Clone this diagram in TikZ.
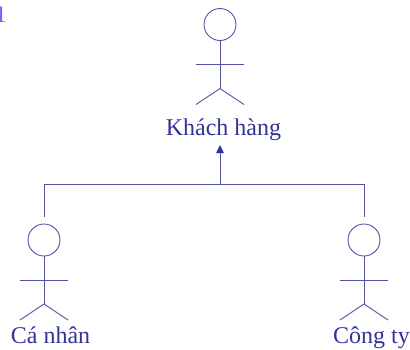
\documentclass[tikz,border=0pt]{standalone}
\usepackage{fontspec}
\setmainfont{Liberation Serif}
\usetikzlibrary{arrows.meta}
\definecolor{umlblue}{HTML}{333399}
\definecolor{numblue}{HTML}{6666FF}
\tikzset{
  x=1pt,y=-1pt,
  umlline/.style={draw=umlblue!85!white,line width=0.9pt},
  umlhead/.style={circle,umlline,minimum size=32pt,inner sep=0pt,outer sep=0pt},
  umllabel/.style={text=umlblue,font=\fontsize{24}{26}\selectfont,inner sep=0pt,anchor=base},
  actor/.pic={
    \node[umlhead] (-head) at (0,0) {};
    \coordinate (-hip) at (0,64);
    \coordinate (-neck) at (0,40);
    \coordinate (-la) at (-24,40);
    \coordinate (-ra) at (24,40);
    \coordinate (-lf) at (-24,80);
    \coordinate (-rf) at (24,80);
    \draw[umlline] (-head.south) -- (-hip);
    \draw[umlline] (-la) -- (-ra);
    \draw[umlline] (-lf) -- (-hip) -- (-rf);
  }
}
\begin{document}
\begin{tikzpicture}
\useasboundingbox (0,0) rectangle (410,349);
\begin{scope}
\clip (0,0) rectangle (410,349);
\node[text=numblue,font=\fontsize{24}{26}\selectfont,inner sep=0pt,anchor=base east] (num) at (7,22) {1};
\end{scope}
\pic (top) at (220,24.5) {actor};
\pic (left) at (44,240) {actor};
\pic (right) at (364,240) {actor};
\node[umllabel] (ltop) at (223.5,135) {Khách hàng};
\node[umllabel] (lleft) at (50.5,343) {Cá nhân};
\node[umllabel] (lright) at (371.5,343) {Công ty};
\coordinate (junc) at (220,184);
\coordinate (cleft) at (44,184);
\coordinate (cright) at (364,184);
\coordinate (eleft) at (44,217);
\coordinate (eright) at (364,217);
\coordinate (tip) at (220,145);
\draw[umlline] (eleft) -- (cleft) -- (cright) -- (eright);
\draw[umlline,-{Triangle[length=8pt,width=7.5pt,umlblue]}] (junc) -- (tip);
\end{tikzpicture}
\end{document}
